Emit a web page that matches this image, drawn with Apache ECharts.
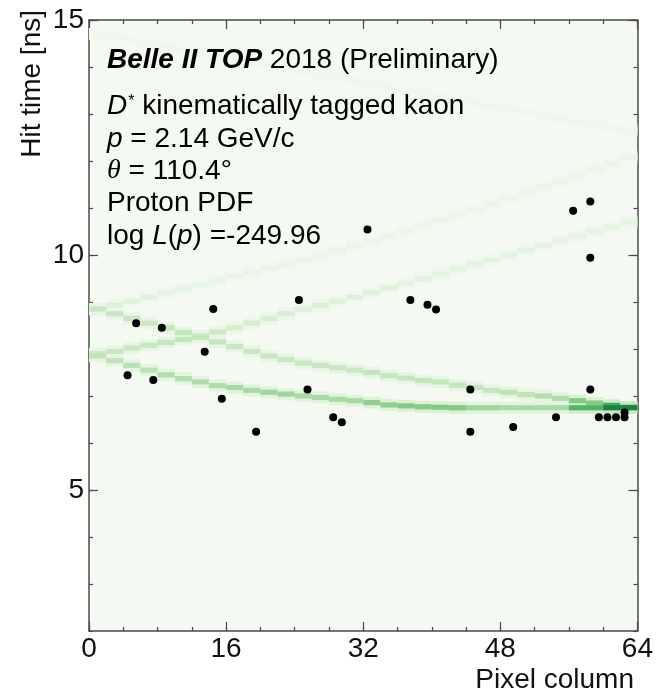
<!DOCTYPE html>
<html>
<head>
<meta charset="utf-8">
<script src="https://cdn.jsdelivr.net/npm/echarts@6/dist/echarts.min.js"></script>
<style>
  html, body { margin: 0; padding: 0; background: #ffffff; }
  #chart { width: 656px; height: 692px; }
</style>
</head>
<body>
<div id="chart"></div>
<script>
// ---- axis ticks ----
const xMajorTicks = [0, 16, 32, 48, 64];
const yMajorTicks = [5, 10, 15];

// ---- observed photon hits: pixel column index and hit time [ns] ----
const hitColumns = [4, 5, 7, 8, 13, 14, 15, 19, 24, 25, 28, 29, 32, 37, 39, 40, 44, 44, 49, 54, 56, 58, 58, 58, 59, 60, 61, 62, 62];
const hitTimes   = [7.44, 8.55, 7.34, 8.45, 7.94, 8.85, 6.94, 6.24, 9.04, 7.14, 6.55, 6.44, 10.54, 9.04, 8.94, 8.84, 7.14, 6.24, 6.34, 6.55, 10.94, 11.14, 9.94, 7.14, 6.55, 6.55, 6.55, 6.55, 6.65];

// ---- proton PDF: peak time of each ridge, one value per pair of pixel columns ----
const ridgeLowerFall = [7.85, 7.75, 7.65, 7.55, 7.45, 7.37, 7.3, 7.22, 7.18, 7.12, 7.08, 7.04, 7.0, 6.97, 6.93, 6.9,
                        6.86, 6.81, 6.79, 6.77, 6.76, 6.75, 6.75, 6.75, 6.75, 6.75, 6.75, 6.75, 6.75, 6.75, 6.75, 6.75];
const ridgeUpperFall = [8.85, 8.75, 8.65, 8.55, 8.45, 8.35, 8.25, 8.15, 8.05, 7.95, 7.85, 7.78, 7.7, 7.65, 7.6, 7.55,
                        7.5, 7.43, 7.38, 7.33, 7.3, 7.23, 7.18, 7.12, 7.08, 7.03, 7.0, 6.95, 6.9, 6.85, 6.8, 6.76];
const ridgeLowerRise = [7.9, 7.95, 8.02, 8.08, 8.14, 8.2, 8.28, 8.36, 8.45, 8.55, 8.65, 8.75, 8.85, 8.93, 9.02, 9.1,
                        9.2, 9.3, 9.4, 9.5, 9.6, 9.7, 9.8, 9.9, 10.0, 10.1, 10.2, 10.3, 10.4, 10.5, 10.6, 10.7];
const ridgeUpperRise = [8.85, 8.93, 9.02, 9.1, 9.2, 9.28, 9.37, 9.46, 9.55, 9.63, 9.72, 9.8, 9.9, 10.0, 10.1, 10.2,
                        10.3, 10.4, 10.52, 10.63, 10.75, 10.86, 10.97, 11.08, 11.2, 11.32, 11.45, 11.57, 11.7, 11.82, 11.95, 12.08];
const ridgeTopFall   = [14.7, 14.63, 14.57, 14.5, 14.44, 14.37, 14.3, 14.24, 14.17, 14.1, 14.04, 13.97, 13.9, 13.84, 13.77, 13.7,
                        13.64, 13.57, 13.5, 13.44, 13.37, 13.3, 13.24, 13.17, 13.1, 13.04, 12.97, 12.9, 12.84, 12.77, 12.7, 12.65];

// ---- ridge density (0..1), one value per group of four pixel columns ----
const densityLowerFall = [0.32, 0.35, 0.38, 0.4, 0.42, 0.45, 0.42, 0.42, 0.5, 0.55, 0.55, 0.45, 0.42, 0.42, 0.7, 0.92];
const densityUpperFall = [0.28, 0.28, 0.3, 0.3, 0.28, 0.28, 0.28, 0.28, 0.3, 0.3, 0.3, 0.3, 0.33, 0.38, 0.55, 0.75];
const densityLowerRise = [0.28, 0.28, 0.3, 0.26, 0.2, 0.18, 0.16, 0.15, 0.14, 0.13, 0.12, 0.12, 0.12, 0.11, 0.11, 0.11];
const densityUpperRise = [0.16, 0.13, 0.11, 0.09, 0.08, 0.08, 0.07, 0.07, 0.07, 0.07, 0.07, 0.07, 0.07, 0.07, 0.07, 0.07];
const densityTopFall   = [0.035, 0.035, 0.035, 0.035, 0.035, 0.035, 0.035, 0.035, 0.035, 0.035, 0.035, 0.035, 0.035, 0.035, 0.035, 0.035];

const greens = ['#f4faf2', '#e6f5e2', '#d6eed0', '#c3e6bc', '#aedcaa', '#92d08f',
                '#74c476', '#54b466', '#36a055', '#1f8a45', '#0d6e33'];

const FONT = '"Liberation Sans", Arial, Helvetica, sans-serif';
const COLS_PER_CELL = 2;
const CORE_HEIGHT = 0.11;   // ns
const HALO_HEIGHT = 0.26;   // ns
const HALO_FACTOR = 0.3;

// Build PDF cells: [column, time, density, cellHeight]
function ridgeCells(peaks, density) {
  const cells = [];
  peaks.forEach(function (t, i) {
    const d = density[Math.floor(i / 2)];
    cells.push([i * COLS_PER_CELL, t, d * HALO_FACTOR, HALO_HEIGHT]);
    cells.push([i * COLS_PER_CELL, t, d, CORE_HEIGHT]);
  });
  return cells;
}
let pdfCells = [].concat(
  ridgeCells(ridgeTopFall, densityTopFall),
  ridgeCells(ridgeUpperRise, densityUpperRise),
  ridgeCells(ridgeLowerRise, densityLowerRise),
  ridgeCells(ridgeUpperFall, densityUpperFall),
  ridgeCells(ridgeLowerFall, densityLowerFall)
);
// darker cells on top
pdfCells.sort(function (a, b) { return a[2] - b[2]; });

const hits = hitColumns.map(function (c, i) { return [c + 0.5, hitTimes[i]]; });

const chart = echarts.init(document.getElementById('chart'), null, { renderer: 'canvas' });

const axisColor = '#4a4a4a';
function xAx(position, interval, tickLen, showLine, showLabel) {
  return {
    type: 'value', min: 0, max: 64, interval: interval, position: position,
    axisLine: { show: showLine, onZero: false, lineStyle: { color: axisColor, width: 1.5 } },
    axisTick: { show: true, inside: true, length: tickLen, lineStyle: { color: axisColor, width: 1.2 } },
    axisLabel: { show: showLabel, fontFamily: FONT, fontSize: 28, color: '#111', margin: 4 },
    splitLine: { show: false }
  };
}
function yAx(position, major, showLine, showLabel) {
  const ax = {
    type: 'value', min: 2, max: 15, interval: 1, position: position,
    axisLine: { show: showLine, onZero: false, lineStyle: { color: axisColor, width: 1.5 } },
    axisTick: { show: true, inside: true, length: major ? 9 : 4, lineStyle: { color: axisColor, width: 1.2 } },
    axisLabel: { show: showLabel, fontFamily: FONT, fontSize: 28, color: '#111', margin: 5 },
    splitLine: { show: false }
  };
  if (major) {
    ax.axisTick.customValues = yMajorTicks;
    ax.axisLabel.customValues = yMajorTicks;
  }
  return ax;
}

const textLines = [
  { y: 60,  text: '{bi|Belle II TOP} 2018 (Preliminary)' },
  { y: 106, text: '{i|D}{s|*} kinematically tagged kaon' },
  { y: 139, text: '{i|p} = 2.14 GeV/c' },
  { y: 171, text: '{th|θ} = 110.4°' },
  { y: 203, text: 'Proton PDF' },
  { y: 236, text: 'log {i|L}({i|p}) =-249.96' }
];
const richStyles = {
  bi: { fontFamily: FONT, fontSize: 28, fontWeight: 'bold', fontStyle: 'italic', fill: '#000' },
  i:  { fontFamily: FONT, fontSize: 28, fontStyle: 'italic', fill: '#000' },
  th: { fontFamily: '"Liberation Serif", "Times New Roman", serif', fontSize: 28, fontStyle: 'italic', fill: '#000' },
  s:  { fontFamily: FONT, fontSize: 16, fill: '#000', verticalAlign: 'top', padding: [2, 0, 0, 1] }
};

const graphics = textLines.map(function (l) {
  return {
    type: 'text', x: 107, y: l.y, z: 100,
    style: {
      text: l.text, fontFamily: FONT, fontSize: 28, fill: '#000',
      verticalAlign: 'middle', align: 'left', rich: richStyles
    }
  };
});
graphics.push({
  type: 'text', x: 634, y: 680, z: 100,
  style: { text: 'Pixel column', fontFamily: FONT, fontSize: 28, fill: '#111', align: 'right', verticalAlign: 'middle' }
});
graphics.push({
  type: 'text', x: 32, y: 10, z: 100, rotation: Math.PI / 2,
  style: { text: 'Hit time [ns]', fontFamily: FONT, fontSize: 28, fill: '#111', align: 'right', verticalAlign: 'middle' }
});

chart.setOption({
  animation: false,
  backgroundColor: '#ffffff',
  grid: { left: 89, right: 18, top: 20, bottom: 61, show: true, backgroundColor: greens[0], borderWidth: 0 },
  xAxis: [
    xAx('bottom', 4, 4, true, false),
    xAx('bottom', 16, 9, false, true),
    xAx('top', 4, 4, true, false),
    xAx('top', 16, 9, false, false)
  ],
  yAxis: [
    yAx('left', false, true, false),
    yAx('left', true, false, true),
    yAx('right', false, true, false),
    yAx('right', true, false, false)
  ],
  visualMap: {
    show: false, type: 'continuous', min: 0, max: 1, dimension: 2, seriesIndex: 0,
    inRange: { color: greens }
  },
  graphic: graphics,
  series: [
    {
      type: 'custom', name: 'Proton PDF', xAxisIndex: 0, yAxisIndex: 0, clip: true, z: 1,
      encode: { x: 0, y: 1 },
      data: pdfCells,
      renderItem: function (params, api) {
        const c = api.value(0), t = api.value(1), h = api.value(3);
        const p0 = api.coord([c, t + h / 2]);
        const p1 = api.coord([c + COLS_PER_CELL, t - h / 2]);
        return {
          type: 'rect',
          shape: { x: p0[0], y: p0[1], width: p1[0] - p0[0], height: p1[1] - p0[1] },
          style: { fill: api.visual('color') }
        };
      }
    },
    {
      type: 'scatter', name: 'Hits', xAxisIndex: 0, yAxisIndex: 0, z: 5,
      symbol: 'circle', symbolSize: 8,
      itemStyle: { color: '#000', opacity: 1 },
      data: hits
    }
  ]
});
</script>
</body>
</html>
